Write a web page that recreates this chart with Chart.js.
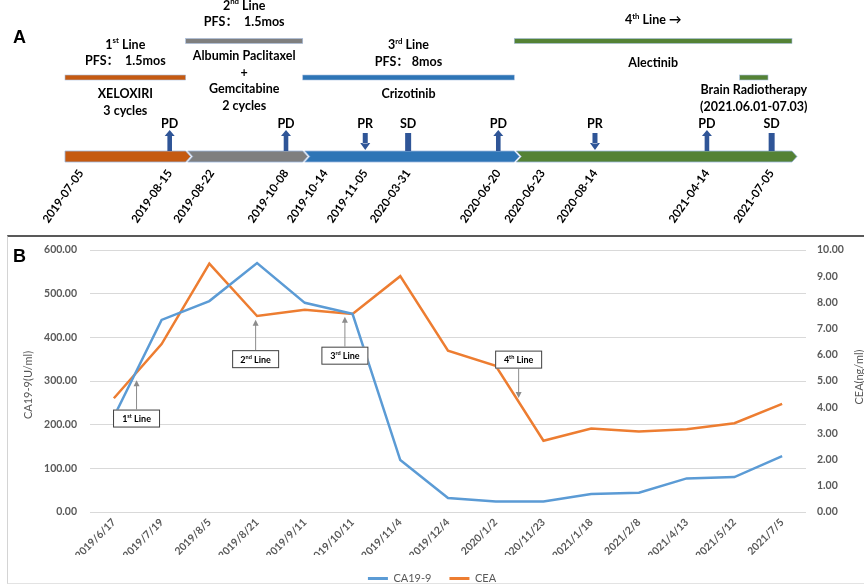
<!DOCTYPE html>
<html>
<head>
<meta charset="utf-8">
<script src="https://cdn.jsdelivr.net/npm/chart.js@4.4.1/dist/chart.umd.min.js"></script>
<style>
  html, body { margin: 0; padding: 0; background: #fff; width: 864px; height: 585px; overflow: hidden; }
  canvas { display: block; }
  #wrapA { position: absolute; left: 0; top: 0; width: 864px; height: 235px; }
  #frameB { position: absolute; left: 7px; top: 235px; width: 857px; height: 349px; box-sizing: border-box;
            border-top: 2px solid #595959; border-left: 1px solid #d4d4d4; border-bottom: 1px solid #e3e3e3; }
  #wrapB { position: absolute; left: 0; top: 235px; width: 864px; height: 350px; }
  .panel { position: absolute; left: 13px; font: bold 18px "Liberation Sans", Arial, sans-serif; line-height: 18px; color: #000; }
</style>
</head>
<body>
<div id="frameB"></div>
<div id="wrapA"><canvas id="timeline" width="864" height="235"></canvas></div>
<div id="wrapB"><canvas id="markers" width="864" height="350"></canvas></div>
<div class="panel" style="top:28px">A</div>
<div class="panel" style="top:247px">B</div>

<script>
// ---------- Panel A: treatment timeline (schematic track, 0-100) ----------
const milestoneDates = ['2019-07-05', '2019-08-15', '2019-08-22', '2019-10-08', '2019-10-14', '2019-11-05',
                        '2020-03-31', '2020-06-20', '2020-06-23', '2020-08-14', '2021-04-14', '2021-07-05'];
const milestoneTrack = [2.2, 14.4, 20.2, 30.4, 35.8, 41.3, 47.2, 59.6, 65.7, 72.9, 88.3, 97.2];

const responseLabels = ['PD', 'PD', 'PR', 'SD', 'PD', 'PR', 'PD', 'SD'];
const responseTrack  = [14.4, 30.4, 41.3, 47.2, 59.6, 72.9, 88.3, 97.2];

const lineOfTherapy = ['1st', '2nd', '3rd', '4th'];
const lineStart = [0, 16.6, 32.7, 61.8];
const lineEnd   = [16.6, 32.7, 61.8, 100];

const regimenStart = [0, 16.6, 32.7, 61.8, 92.8];
const regimenEnd   = [16.6, 32.7, 61.8, 100, 96.7];
const regimenAbove = [
  ['1^{st} Line', 'PFS：  1.5mos'],
  ['2^{nd} Line', 'PFS：  1.5mos'],
  ['3^{rd} Line', 'PFS： 8mos'],
  ['4^{th} Line →'],
  []
];
const regimenBelow = [
  ['XELOXIRI', '3 cycles'],
  ['Albumin Paclitaxel', '+', 'Gemcitabine', '2 cycles'],
  ['Crizotinib'],
  ['Alectinib'],
  ['Brain Radiotherapy', '(2021.06.01-07.03)']
];

// ---------- Panel B: tumour markers ----------
const sampleDates = ['2019/6/17', '2019/7/19', '2019/8/5', '2019/8/21', '2019/9/11', '2019/10/11', '2019/11/4',
                     '2019/12/4', '2020/1/2', '2020/11/23', '2021/1/18', '2021/2/8', '2021/4/13', '2021/5/12', '2021/7/5'];
const ca199 = [218, 440, 483, 570, 479, 454, 119, 32, 24, 24, 41, 44, 77, 80, 128];
const cea   = [4.34, 6.41, 9.48, 7.48, 7.72, 7.56, 9.0, 6.16, 5.58, 2.72, 3.19, 3.07, 3.16, 3.39, 4.13];
const ca199Ticks = [0, 100, 200, 300, 400, 500, 600];
const ceaTicks   = [0, 1, 2, 3, 4, 5, 6, 7, 8, 9, 10];

// callouts marking the start of each line of therapy (category position, CA19-9 values)
const calloutText = ['1^{st} Line', '2^{nd} Line', '3^{rd} Line', '4^{th} Line'];
const calloutAt   = [0.475, 2.97, 4.84, 8.48];
const calloutTip  = [302, 440, 447, 261];
const calloutBox  = [214, 350, 358, 349];

// ---------- styling ----------
const FONT = 'Lato, "Noto Sans CJK SC", "DejaVu Sans", sans-serif';
Chart.defaults.font.family = FONT;
const lineColors = ['#C55A11', '#7F7F7F', '#2E75B6', '#548235'];
const regimenColors = ['#C55A11', '#7F7F7F', '#2E75B6', '#548235', '#548235'];
const regimenRowY = [77.5, 41, 77.5, 41, 77.5];
const aboveGap = [16.5, 19, 16, 21, 0];
const belowGap = [16.5, 15, 16.5, 22, 12.5];
const textStep = 16.5;
const MARKER = '#2F5597';
const GREY = '#595959';
const CLEAR = 'rgba(0,0,0,0)';

function drawRich(ctx, str, cx, cy, size, weight, color) {
  const parts = str.split(/\^\{([^}]*)\}/);
  const base = `${weight} ${size}px ${FONT}`;
  const sup = `${weight} ${(size * 0.62).toFixed(1)}px ${FONT}`;
  let total = 0;
  parts.forEach((p, i) => { ctx.font = i % 2 ? sup : base; total += ctx.measureText(p).width; });
  let x = cx - total / 2;
  ctx.fillStyle = color;
  ctx.textAlign = 'left';
  ctx.textBaseline = 'middle';
  parts.forEach((p, i) => {
    ctx.font = i % 2 ? sup : base;
    ctx.fillText(p, x, i % 2 ? cy - size * 0.3 : cy);
    x += ctx.measureText(p).width;
  });
}

const timelinePlugin = {
  id: 'timelineDrawing',
  afterDraw(chart) {
    const ctx = chart.ctx;
    const xs = chart.scales.x;
    const top = 151, bottom = 162, mid = 156.5, tip = 5, gap = 2;
    ctx.save();

    // chevron track, one segment per line of therapy
    lineOfTherapy.forEach((name, i) => {
      const x0 = xs.getPixelForValue(lineStart[i]) + (i > 0 ? gap : 0);
      const x1 = xs.getPixelForValue(lineEnd[i]);
      ctx.beginPath();
      ctx.moveTo(x0, top);
      ctx.lineTo(x1, top);
      ctx.lineTo(x1 + tip, mid);
      ctx.lineTo(x1, bottom);
      ctx.lineTo(x0, bottom);
      if (i > 0) ctx.lineTo(x0 + tip, mid);
      ctx.closePath();
      ctx.fillStyle = lineColors[i];
      ctx.fill();
      ctx.lineWidth = 0.8;
      ctx.strokeStyle = '#9DB7DE';
      ctx.stroke();
    });

    // regimen bars with their captions
    regimenStart.forEach((s, i) => {
      const x0 = xs.getPixelForValue(s);
      const x1 = xs.getPixelForValue(regimenEnd[i]);
      const y = regimenRowY[i];
      ctx.fillStyle = regimenColors[i];
      ctx.fillRect(x0, y - 2.5, x1 - x0, 5);
      ctx.lineWidth = 0.6;
      ctx.strokeStyle = '#A8BEDF';
      ctx.strokeRect(x0, y - 2.5, x1 - x0, 5);
      const cx = (x0 + x1) / 2;
      const above = regimenAbove[i];
      above.forEach((t, k) => {
        const cy = y - aboveGap[i] - (above.length - 1 - k) * textStep;
        drawRich(ctx, t, cx, cy, 12.5, 'bold', '#000');
      });
      regimenBelow[i].forEach((t, k) => {
        drawRich(ctx, t, cx, y + belowGap[i] + k * textStep, 12.5, 'bold', '#000');
      });
    });

    // response assessments
    responseLabels.forEach((lab, i) => {
      const x = xs.getPixelForValue(responseTrack[i]);
      ctx.fillStyle = MARKER;
      ctx.beginPath();
      if (lab === 'PD') {
        ctx.rect(x - 2.3, 135.5, 4.6, 15.5);
        ctx.moveTo(x - 5, 136); ctx.lineTo(x, 130); ctx.lineTo(x + 5, 136); ctx.closePath();
      } else if (lab === 'PR') {
        ctx.rect(x - 2.5, 133, 5, 10.5);
        ctx.moveTo(x - 5, 143); ctx.lineTo(x, 150); ctx.lineTo(x + 5, 143); ctx.closePath();
      } else {
        ctx.rect(x - 3, 133, 6, 18);
      }
      ctx.fill();
      drawRich(ctx, lab, x, 124, 12.5, 'bold', '#000');
    });
    ctx.restore();
  }
};

new Chart(document.getElementById('timeline'), {
  type: 'scatter',
  data: { datasets: [] },
  options: {
    responsive: false,
    animation: false,
    layout: { padding: { left: 65, right: 72, top: 0, bottom: 0 } },
    plugins: { legend: { display: false }, tooltip: { enabled: false } },
    scales: {
      x: {
        type: 'linear', min: 0, max: 100,
        afterBuildTicks: s => { s.ticks = milestoneTrack.map(v => ({ value: v })); },
        afterFit: s => { s.height = 73; },
        grid: { display: false, drawTicks: false },
        border: { display: false },
        ticks: {
          autoSkip: false, minRotation: 55, maxRotation: 55, padding: 5,
          color: '#000', font: { size: 11.5, weight: 'bold' },
          callback: (v, i) => milestoneDates[i]
        }
      },
      y: { display: false, min: 0, max: 1 }
    }
  },
  plugins: [timelinePlugin]
});

const calloutPlugin = {
  id: 'lineCallouts',
  afterDatasetsDraw(chart) {
    const ctx = chart.ctx;
    const xs = chart.scales.x, ys = chart.scales.y;
    ctx.save();
    calloutText.forEach((t, i) => {
      const x = xs.getPixelForValue(calloutAt[i]);
      const tipY = ys.getPixelForValue(calloutTip[i]);
      const boxY = ys.getPixelForValue(calloutBox[i]);
      const w = 47, h = 18;
      const edge = tipY < boxY ? boxY - h / 2 : boxY + h / 2;
      const dir = tipY < boxY ? 1 : -1;
      ctx.strokeStyle = '#8C8C8C';
      ctx.fillStyle = '#8C8C8C';
      ctx.lineWidth = 1;
      ctx.beginPath();
      ctx.moveTo(x, edge);
      ctx.lineTo(x, tipY + dir * 5);
      ctx.stroke();
      ctx.beginPath();
      ctx.moveTo(x - 3, tipY + dir * 6);
      ctx.lineTo(x, tipY);
      ctx.lineTo(x + 3, tipY + dir * 6);
      ctx.closePath();
      ctx.fill();
      ctx.fillStyle = '#fff';
      ctx.fillRect(x - w / 2, boxY - h / 2, w, h);
      ctx.strokeStyle = '#404040';
      ctx.strokeRect(x - w / 2 + 0.5, boxY - h / 2 + 0.5, w - 1, h - 1);
      drawRich(ctx, t, x, boxY + 0.5, 9, 'bold', '#000');
    });
    ctx.restore();
  },
  afterDraw(chart) {
    const ctx = chart.ctx;
    ctx.save();
    ctx.fillStyle = GREY;
    ctx.font = `11px ${FONT}`;
    ctx.textAlign = 'center';
    ctx.textBaseline = 'middle';
    ctx.translate(28, 150);
    ctx.rotate(-Math.PI / 2);
    ctx.fillText('CA19-9(U/ml)', 0, 0);
    ctx.restore();
    ctx.save();
    ctx.fillStyle = GREY;
    ctx.font = `11px ${FONT}`;
    ctx.textAlign = 'center';
    ctx.textBaseline = 'middle';
    ctx.translate(859, 142);
    ctx.rotate(-Math.PI / 2);
    ctx.fillText('CEA(ng/ml)', 0, 0);
    ctx.restore();
  }
};

const tickFont = { size: 10.5, weight: 'bold' };

new Chart(document.getElementById('markers'), {
  type: 'line',
  data: {
    labels: sampleDates,
    datasets: [
      { label: 'CA19-9', data: ca199, yAxisID: 'y', borderColor: '#5B9BD5', backgroundColor: '#5B9BD5',
        borderWidth: 2.5, pointRadius: 0, tension: 0 },
      { label: 'CEA', data: cea, yAxisID: 'y1', borderColor: '#ED7D31', backgroundColor: '#ED7D31',
        borderWidth: 2.5, pointRadius: 0, tension: 0 }
    ]
  },
  options: {
    responsive: false,
    animation: false,
    layout: { padding: { top: 15, left: 0, right: 0, bottom: -9 } },
    plugins: {
      tooltip: { enabled: false },
      legend: {
        position: 'bottom',
        labels: {
          boxWidth: 20, boxHeight: 3, padding: 18, color: GREY, font: { size: 11 },
          generateLabels: chart => Chart.defaults.plugins.legend.labels.generateLabels(chart)
            .map(l => Object.assign(l, { lineWidth: 0 }))
        }
      }
    },
    scales: {
      x: {
        offset: true,
        grid: { display: false, drawTicks: false },
        border: { display: false },
        afterFit: s => { s.height = 43; },
        ticks: { autoSkip: false, minRotation: 45, maxRotation: 45, padding: 4, color: GREY, font: tickFont }
      },
      y: {
        position: 'left', min: 0, max: 600,
        afterBuildTicks: s => { s.ticks = ca199Ticks.map(v => ({ value: v })); },
        afterFit: s => { s.width = 90; },
        grid: { color: '#D9D9D9', lineWidth: 1, drawTicks: true, tickLength: 11, tickColor: CLEAR },
        border: { display: false },
        ticks: { padding: 2, color: GREY, font: tickFont, callback: v => Number(v).toFixed(2) }
      },
      y1: {
        position: 'right', min: 0, max: 10,
        afterBuildTicks: s => { s.ticks = ceaTicks.map(v => ({ value: v })); },
        afterFit: s => { s.width = 58; },
        grid: { display: true, drawOnChartArea: false, color: CLEAR, drawTicks: true, tickLength: 9, tickColor: CLEAR },
        border: { display: false },
        ticks: { padding: 2, color: GREY, font: tickFont, callback: v => Number(v).toFixed(2) }
      }
    }
  },
  plugins: [calloutPlugin]
});
</script>
</body>
</html>
